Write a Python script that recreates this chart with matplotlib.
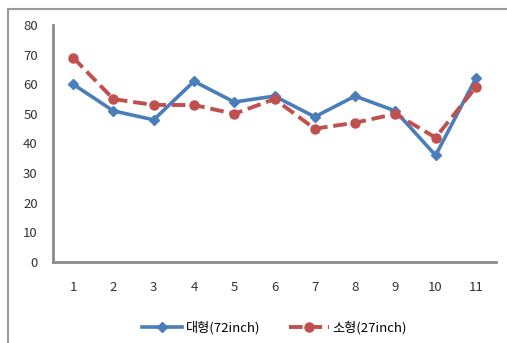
import numpy as np
import matplotlib.pyplot as plt
from matplotlib.lines import Line2D

plt.rcParams['font.family'] = ['Noto Sans CJK KR', 'DejaVu Sans']

x = np.arange(1, 12)
large = [60, 51, 48, 61, 54, 56, 49, 56, 51, 36, 62]
small = [69, 55, 53, 53, 50, 55, 45, 47, 50, 42, 59]
labels = ['대형(72inch)', '소형(27inch)']

W, H = 507, 343
fig = plt.figure(figsize=(W / 100, H / 100), dpi=100)
ax = fig.add_axes([53 / W, 1 - 262 / H, (496 - 53) / W, (262 - 25) / H])

blue = '#4a7ebb'
red = '#c0504d'
ax.plot(x, large, color=blue, lw=2.6, marker='D', ms=5, label=labels[0])
ax.plot(x, small, color=red, lw=2.8, ls=(0, (3.5, 1.5)), marker='o', ms=6.5, label=labels[1])

ax.set_xlim(0.5, 11.5)
ax.set_ylim(0, 80)
ax.set_yticks(range(0, 81, 10))
ax.set_xticks(x)
for s in ['top', 'right']:
    ax.spines[s].set_visible(False)
for s in ['left', 'bottom']:
    ax.spines[s].set_color('#8c8c8c')
    ax.spines[s].set_linewidth(2)
ax.tick_params(length=0, labelsize=9.5, colors='#333333')
ax.tick_params(axis='y', pad=11)
ax.tick_params(axis='x', pad=14)

ax.legend(loc='upper center', bbox_to_anchor=(0.5, -0.2), ncol=2, frameon=False,
          fontsize=9.5, handlelength=3.0, columnspacing=2.2, handletextpad=0.3)

# outer chart border
fig.add_artist(Line2D([8 / W, 1.0], [1 - 9 / H, 1 - 9 / H], color='#9a9a9a', lw=1.5))
fig.add_artist(Line2D([8 / W, 8 / W], [0, 1 - 9 / H], color='#9a9a9a', lw=1.5))

fig.savefig('out.png', dpi=100)
